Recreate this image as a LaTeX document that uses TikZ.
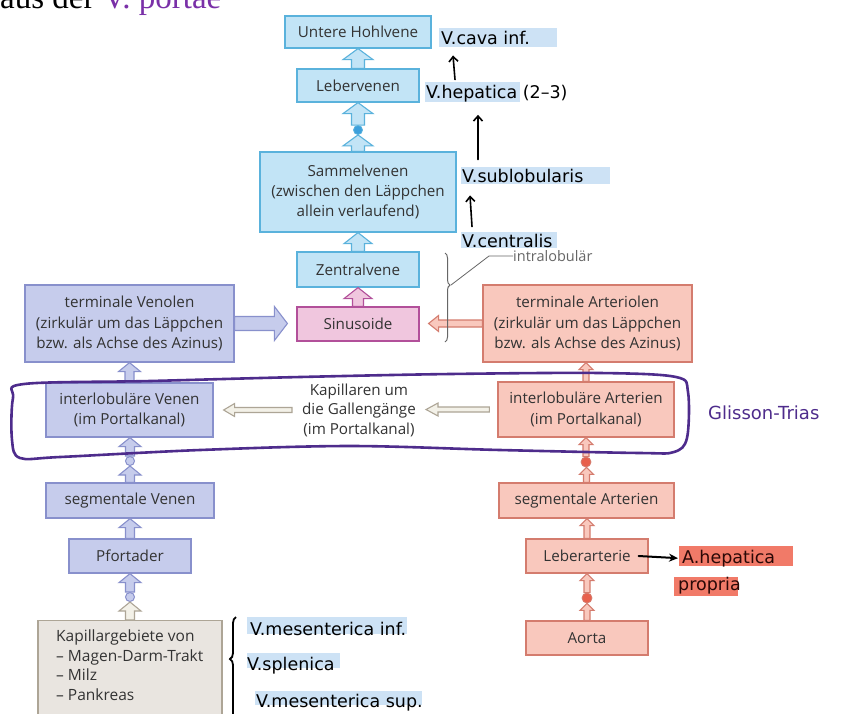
\documentclass[tikz,border=0pt]{standalone}
\usepackage{fontspec}
\setmainfont{Open Sans}
\newfontfamily\serifa{Liberation Serif}
\newfontfamily\handf{DejaVu Sans}
\usetikzlibrary{calc,decorations.pathreplacing,arrows.meta}
\definecolor{txt}{HTML}{333333}
\definecolor{gry}{HTML}{666666}
\definecolor{bluF}{HTML}{C2E4F6}
\definecolor{bluD}{HTML}{5AB2DC}
\definecolor{bluC}{HTML}{3DA0DC}
\definecolor{lavF}{HTML}{C6CCEC}
\definecolor{lavD}{HTML}{8890CC}
\definecolor{pinkF}{HTML}{F0C6DE}
\definecolor{pinkD}{HTML}{B2509A}
\definecolor{salF}{HTML}{F9C8BD}
\definecolor{salD}{HTML}{D47C6E}
\definecolor{redC}{HTML}{E8604C}
\definecolor{begF}{HTML}{E9E5E0}
\definecolor{begD}{HTML}{ADA596}
\definecolor{begA}{HTML}{F3F1E8}
\definecolor{purp}{HTML}{4E2C8C}
\definecolor{purpT}{HTML}{7A30A8}
\definecolor{hlb}{HTML}{CDE2F5}
\definecolor{hlr}{HTML}{F17A68}
\definecolor{hdr}{HTML}{2A0806}
% vertical block arrow: style, from, to, half shaft, half head, head length
\newcommand\vup[6]{\draw[#1] let \p1=(#2), \p2=(#3) in
  ({\x1-#4},\y1) -- ({\x1-#4},{\y2-#6}) -- ({\x1-#5},{\y2-#6}) -- (\x1,\y2)
  -- ({\x1+#5},{\y2-#6}) -- ({\x1+#4},{\y2-#6}) -- ({\x1+#4},\y1) -- cycle;}
% horizontal block arrow: style, from, to, half shaft, half head, signed head length
\newcommand\hor[6]{\draw[#1] let \p1=(#2), \p2=(#3) in
  (\x1,{\y1-#4}) -- ({\x2-(#6)},{\y1-#4}) -- ({\x2-(#6)},{\y1-#5}) -- (\x2,\y1)
  -- ({\x2-(#6)},{\y1+#5}) -- ({\x2-(#6)},{\y1+#4}) -- (\x1,{\y1+#4}) -- cycle;}
\begin{document}
\begin{tikzpicture}[x=1pt,y=-1pt,
  box/.style={draw, line width=1.2pt, inner sep=0pt, align=center, text=txt,
    font=\fontsize{15.2}{20.3}\selectfont},
  bbox/.style={box, fill=bluF, draw=bluD},
  lbox/.style={box, fill=lavF, draw=lavD},
  pbox/.style={box, fill=pinkF, draw=pinkD},
  sbox/.style={box, fill=salF, draw=salD},
  gbox/.style={box, fill=begF, draw=begD},
  barr/.style={fill=bluF, draw=bluD, line width=1.1pt},
  parr/.style={fill=pinkF, draw=pinkD, line width=1.1pt},
  larr/.style={fill=lavF, draw=lavD, line width=1.1pt},
  sarr/.style={fill=salF, draw=salD, line width=1.1pt},
  garr/.style={fill=begA, draw=begD, line width=1.1pt},
  bdot/.style={circle, inner sep=0pt, minimum size=9pt, fill=bluC, draw=bluD, line width=0.8pt},
  ldot/.style={circle, inner sep=0pt, minimum size=9pt, fill=lavF, draw=lavD, line width=1pt},
  rdot/.style={circle, inner sep=0pt, minimum size=10pt, fill=redC, draw=salD, line width=0.8pt},
  hand/.style={font=\handf\fontsize{17.5}{17.5}\selectfont, text=black, inner sep=0pt},
  penarr/.style={black, line width=1.6pt, line cap=round, -{Straight Barb[length=5pt,width=9pt]}},
  penarr2/.style={black, line width=2pt, line cap=round, -{Stealth[length=9pt,width=8pt]}},
]
\fill[white] (0,0) rectangle (853,713);
\useasboundingbox (0,0) rectangle (853,713);

% heading fragment
\node[anchor=base west, inner sep=0pt, font=\serifa\fontsize{33}{33}\selectfont] (head) at (0,8)
  {aus der \textcolor{purpT}{V. portae}};

% blue column
\node[bbox, minimum width=146pt, minimum height=32pt] (uhv) at (358,32) {Untere Hohlvene};
\node[bbox, minimum width=122pt, minimum height=33pt] (lv) at (358,85.5) {Lebervenen};
\node[bdot] (c1) at (358,130) {};
\node[bbox, minimum width=196pt, minimum height=80pt] (sv) at (358,192)
  {Sammelvenen\\(zwischen den Läppchen\\allein verlaufend)};
\node[bbox, minimum width=122pt, minimum height=35pt] (zv) at (358,269.5) {Zentralvene};
\node[pbox, minimum width=122pt, minimum height=34pt] (sin) at (358,324) {Sinusoide};

% lavender column
\node[lbox, minimum width=209pt, minimum height=77pt] (tv) at (129.5,323.5)
  {terminale Venolen\\(zirkulär um das Läppchen\\bzw. als Achse des Azinus)};
\node[lbox, minimum width=167pt, minimum height=54pt] (iv) at (129.5,410)
  {interlobuläre Venen\\(im Portalkanal)};
\node[ldot] (c2) at (130,461) {};
\node[lbox, minimum width=168pt, minimum height=35pt] (segv) at (130,500.5) {segmentale Venen};
\node[lbox, minimum width=122pt, minimum height=34pt] (pf) at (130,556) {Pfortader};
\node[ldot] (c3) at (130,597) {};
\node[gbox, minimum width=184pt, minimum height=110pt, anchor=north] (kg) at (130,620) {};
\node[anchor=north west, inner sep=0pt, align=left, text=txt, font=\fontsize{15.5}{19.4}\selectfont]
  (kgt) at (56,630) {Kapillargebiete von\\– Magen-Darm-Trakt\\– Milz\\– Pankreas};

% middle
\node[inner sep=0pt, align=center, text=txt, font=\fontsize{15.2}{19.5}\selectfont] (kap) at (359,410)
  {Kapillaren um\\die Gallengänge\\(im Portalkanal)};

% salmon column
\node[sbox, minimum width=209pt, minimum height=77pt] (ta) at (587.5,323.5)
  {terminale Arteriolen\\(zirkulär um das Läppchen\\bzw. als Achse des Azinus)};
\node[sbox, minimum width=176pt, minimum height=55pt] (ia) at (586,409.5)
  {interlobuläre Arterien\\(im Portalkanal)};
\node[rdot] (c4) at (586,462) {};
\node[sbox, minimum width=175pt, minimum height=35pt] (sa) at (586.5,500.5) {segmentale Arterien};
\node[sbox, minimum width=122pt, minimum height=34pt] (la) at (587,556) {Leberarterie};
\node[rdot] (c5) at (587,598) {};
\node[sbox, minimum width=122pt, minimum height=34pt] (ao) at (587,638) {Aorta};

% block arrows, blue column
\vup{barr}{lv.north}{uhv.south}{6.5pt}{15pt}{11pt}
\vup{barr}{c1.north}{lv.south}{6.5pt}{15pt}{11pt}
\vup{barr}{sv.north}{c1.south}{6.5pt}{15pt}{11pt}
\vup{barr}{zv.north}{sv.south}{6.5pt}{14pt}{11pt}
\vup{parr}{sin.north}{zv.south}{5.5pt}{14pt}{11pt}
% lavender
\vup{larr}{iv.north}{tv.south}{4.5pt}{11pt}{9pt}
\vup{larr}{c2.north}{iv.south}{4.5pt}{11pt}{9pt}
\vup{larr}{segv.north}{c2.south}{4.5pt}{11pt}{9pt}
\vup{larr}{pf.north}{segv.south}{4.5pt}{11pt}{9pt}
\vup{larr}{c3.north}{pf.south}{4.5pt}{11pt}{9pt}
\vup{garr}{kg.north}{c3.south}{4.5pt}{11pt}{9pt}
\hor{larr}{tv.east}{$(sin.west)+(-9,0)$}{7pt}{17pt}{13pt}
% salmon
\vup{sarr}{ia.north}{ta.south}{3pt}{7pt}{7pt}
\vup{sarr}{c4.north}{ia.south}{3pt}{7pt}{7pt}
\vup{sarr}{sa.north}{c4.south}{3pt}{7pt}{7pt}
\vup{sarr}{la.north}{sa.south}{3pt}{7pt}{7pt}
\vup{sarr}{c5.north}{la.south}{3pt}{7pt}{7pt}
\vup{sarr}{ao.north}{c5.south}{3pt}{7pt}{7pt}
\hor{sarr}{ta.west}{$(sin.east)+(9,0)$}{3.5pt}{8pt}{-10pt}
% beige
\hor{garr}{$(ia.west)+(-8,0)$}{$(kap.east)+(10,0)$}{2.5pt}{6.5pt}{-12pt}
\hor{garr}{$(kap.west)+(-10,0)$}{$(iv.east)+(10,0)$}{2.5pt}{6.5pt}{-11pt}

% intralobular brace
\draw[decorate, decoration={brace, amplitude=5pt, aspect=0.36}, draw=gry, line width=1pt]
  (445,253) -- (445,342);
\coordinate (btip) at (451,285);
\node[anchor=west, inner sep=0pt, text=gry, font=\fontsize{14.5}{14.5}\selectfont] (intra) at (513,256) {intralobulär};
\draw[gry, line width=0.8pt] (btip) -- ([xshift=-24pt]intra.west) -- (intra.west);

% purple loop (Glisson)
\draw[purp, line width=2.6pt] plot[smooth cycle, tension=0.55] coordinates {
  (13,398) (24,384) (150,381) (300,377) (450,374) (600,373) (676,377) (688,392)
  (687,438) (674,452) (640,453) (500,450) (350,446) (200,450) (60,457) (20,458) (12,440)};

% highlights
\fill[hlb] (439,28) rectangle (557,47);
\fill[hlb] (425,82) rectangle (520,102);
\fill[hlb] (461,167) rectangle (610,184);
\fill[hlb] (461,232) rectangle (557,248);
\fill[hlb] (247,617) rectangle (407,634);
\fill[hlb] (247,653) rectangle (340,668);
\fill[hlb] (255,691) rectangle (422,705);
\fill[hlr] (679,546) rectangle (793,566);
\fill[hlr] (674,577) rectangle (738,596);

% handwritten notes
\node[hand, anchor=base west] (cava) at (441,44) {V.cava inf.};
\node[hand, anchor=base west] (hepa) at (426,98) {V.hepatica (2–3)};
\node[hand, anchor=base west] (subl) at (462,182) {V.sublobularis};
\node[hand, anchor=base west] (cent) at (462,247) {V.centralis};
\node[hand, anchor=base west, text=purp, font=\handf\fontsize{18}{18}\selectfont] (glis) at (708,419) {Glisson-Trias};
\node[hand, anchor=base west, text=hdr] (ahep) at (682,563) {A.hepatica};
\node[hand, anchor=base west, text=hdr] (prop) at (678,590) {propria};
\node[hand, anchor=base west] (vmi) at (250,635) {V.mesenterica inf.};
\node[hand, anchor=base west] (vsp) at (247,670) {V.splenica};
\node[hand, anchor=base west] (vms) at (256,707) {V.mesenterica sup.};

\draw[penarr] ([xshift=29pt,yshift=5pt]hepa.north west) -- ([xshift=12pt,yshift=-11pt]cava.south west);
\draw[penarr] ([xshift=16pt,yshift=9pt]subl.north west) -- ([xshift=52pt,yshift=-13pt]hepa.south west);
\draw[penarr] ([xshift=10pt,yshift=7pt]cent.north west) -- ([xshift=8pt,yshift=-13pt]subl.south west);
\draw[penarr2] ([xshift=-10pt]la.east) -- ([xshift=-4pt]ahep.west);
\draw[decorate, decoration={brace, amplitude=6pt, aspect=0.6}, line width=1.8pt, black]
  (236,722) -- (236,617);
\end{tikzpicture}
\end{document}
